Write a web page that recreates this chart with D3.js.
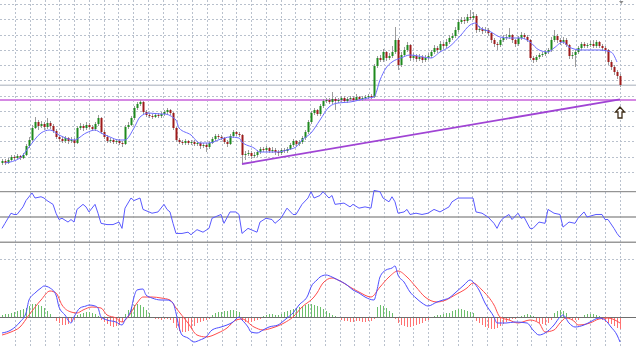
<!DOCTYPE html>
<html>
<head>
<meta charset="utf-8">
<script src="https://cdn.jsdelivr.net/npm/d3@7"></script>
<style>
  html, body { margin: 0; padding: 0; background: #fff; }
  svg { display: block; }
</style>
</head>
<body>
<svg id="chart"></svg>
<script>
// candles (price units, higher = up)
const opens = [
  17,19,17,20,23,22,24,22,25,34, 40,52,58,54,56,53,57,54,49,43,
  41,39,42,39,40,37,52,54,52,55, 53,51,56,62,48,43,39,40,38,39,
  37,36,53,55,62,72,76,78,68,65, 64,63,65,64,66,68,70,67,52,40,
  38,37,39,37,38,36,37,34,35,33, 37,41,44,43,42,38,36,44,48,46,
  45,25,26,27,24,25,28,31,30,32, 29,30,28,27,30,29,31,35,39,36,
  38,42,48,58,67,70,66,74,79,80, 78,81,79,80,82,79,81,82,80,83,
  81,82,83,84,83,114,122,120,128,122, 124,128,140,115,125,130,135,122,124,121,
  123,120,122,124,128,132,130,136,134,138, 142,144,150,158,160,159,163,162,164,150,
  151,149,150,147,140,136,135,140,142,143, 145,140,136,142,145,143,140,122,120,123,
  125,126,128,130,140,144,140,138,140,135, 124,125,128,132,136,134,135,136,134,138,
  134,132,130,118,113,108,104
];
const highs = [
  21,21,22,25,25,26,25,27,36,43, 55,63,60,59,58,62,59,56,51,45,
  44,44,43,43,42,54,57,56,58,57, 55,58,65,63,50,45,42,42,41,41,
  39,55,58,64,74,78,80,79,70,67, 66,67,67,68,70,72,71,68,53,42,
  40,41,40,40,40,39,38,37,37,39, 43,46,46,45,43,40,46,50,49,48,
  46,29,30,29,28,30,33,33,34,33, 33,32,30,32,32,33,37,41,40,40,
  44,50,60,69,72,71,76,81,82,82, 88,83,82,84,84,83,84,84,86,84,
  84,85,86,86,116,124,125,131,129,127, 134,153,142,128,133,138,136,127,126,126,
  125,125,127,130,135,134,139,138,141,145, 147,153,161,163,163,166,170,168,166,154,
  153,153,152,148,142,138,142,145,146,152, 146,141,144,148,147,145,141,124,125,127,
  128,130,132,143,150,146,142,143,142,136, 128,130,134,138,138,137,139,140,140,139,
  136,134,131,120,115,110,106
];
const lows = [
  15,15,16,19,20,21,20,21,24,32, 39,51,50,52,50,51,51,47,41,38,
  37,37,36,37,33,36,50,49,50,51, 49,49,54,46,41,37,37,36,36,35,
  33,35,51,54,60,70,74,66,63,62, 61,62,62,62,64,66,65,50,38,36,
  35,35,35,35,34,34,31,32,28,31, 36,39,41,40,36,33,35,42,44,43,
  17,20,24,21,22,23,26,28,28,27, 27,25,24,25,27,27,30,33,34,34,
  36,40,46,56,65,64,64,72,77,76, 76,70,77,78,77,77,79,78,79,79,
  79,80,81,81,82,112,118,118,119,120, 122,126,110,113,123,128,119,120,118,119,
  117,118,120,122,126,127,128,131,132,136, 140,142,148,156,156,157,160,160,147,148,
  146,147,144,137,133,130,133,138,140,141, 137,133,134,140,141,138,120,117,118,121,
  123,124,126,128,138,137,135,136,133,121, 121,113,126,130,132,132,133,132,132,132,
  129,127,115,110,105,101,93
];
const closes = [
  19,17,20,23,22,24,22,25,34,40, 52,58,54,56,53,57,54,49,43,41,
  39,42,39,40,37,52,54,52,55,53, 51,56,62,48,43,39,40,38,39,37,
  36,53,55,62,72,76,78,68,65,64, 63,65,64,66,68,70,67,52,40,38,
  37,39,37,38,36,37,34,35,33,37, 41,44,43,42,38,36,44,48,46,45,
  25,26,27,24,25,28,31,30,32,29, 30,28,27,30,29,31,35,39,36,38,
  42,48,58,67,70,66,74,79,80,78, 81,79,80,82,79,81,82,80,83,81,
  82,83,84,83,114,122,120,128,122,124, 128,140,115,125,130,135,122,124,121,123,
  120,122,124,128,132,130,136,134,138,142, 144,150,158,160,159,163,162,164,150,151,
  149,150,147,140,136,135,140,142,143,145, 140,136,142,145,143,140,122,120,123,125,
  126,128,130,140,144,140,138,140,135,124, 125,128,132,136,134,135,136,134,138,134,
  132,130,118,113,108,104,95
];

// moving average [bar, value]
const maPoints = [
  [1,17],[6,22],[9,33],[13,47],[16,50],[19,45],[24,40],[28,47],[31,50],[33,47],
  [36,43],[39,40],[41,40],[44,52],[46,63],[49,67],[53,66],[54,66],[58,60],[59,52],
  [63,45],[66,37],[69,37],[73,41],[76,43],[79,42],[80,38],[84,32],[86,28],[92,28],
  [95,30],[98,33],[100,40],[103,47],[106,60],[109,73],[112,77],[116,78],[122,82],[124,83],
  [126,100],[128,112],[130,118],[133,122],[136,125],[143,122],[146,128],[149,133],[153,145],[156,155],
  [158,157],[159,153],[163,148],[166,143],[169,142],[173,142],[176,138],[179,130],[182,128],[184,132],
  [187,138],[189,133],[193,130],[196,130],[199,130],[203,128],[205,118]
];

// horizontal levels and trend line on the price window
const grayLevel = 94.7;
const pinkLevel = 80;
const trendPoints = [[80, 16], [206, 80.7]];
const arrowAt = [206, 73];

// oscillator window [bar, value]
const rsiLevels = [70, 50, 30];
const rsiPoints = [
  [0,41],[1,45],[3,53],[4,52],[5,52],[7,58],[8,63],[10,69],[11,65],[13,66],
  [14,65],[15,63],[17,60],[18,53],[19,48],[20,49],[22,46],[23,48],[24,46],[25,56],
  [27,60],[28,58],[29,54],[31,60],[32,53],[33,45],[35,44],[37,44],[39,46],[40,41],
  [41,57],[43,65],[44,63],[46,65],[47,56],[50,53],[52,54],[54,60],[55,56],[56,54],
  [57,45],[58,37],[60,37],[62,38],[63,36],[65,40],[67,38],[69,41],[70,49],[73,52],
  [74,45],[76,54],[78,54],[79,52],[80,37],[82,41],[85,38],[86,46],[88,49],[90,48],
  [91,45],[93,49],[95,57],[97,52],[98,52],[100,60],[102,65],[103,70],[104,65],[106,67],
  [107,70],[109,65],[110,67],[111,60],[114,61],[116,58],[117,60],[119,57],[121,58],[123,57],
  [124,71],[126,70],[127,65],[129,62],[130,66],[131,62],[132,53],[134,54],[135,56],[136,52],
  [138,53],[140,52],[142,53],[144,56],[146,54],[149,58],[150,62],[152,65],[155,65],[157,65],
  [158,54],[160,53],[162,50],[164,45],[165,41],[166,46],[167,49],[169,52],[170,48],[172,53],
  [173,49],[174,50],[176,41],[177,41],[179,46],[181,45],[182,56],[184,53],[186,52],[187,42],
  [189,46],[191,45],[192,49],[194,54],[195,50],[198,52],[200,52],[201,48],[202,48],[204,41],
  [205,37],[206,34]
];

// MACD window
const macdMain = [
  [0,-16],[3,-13],[6,-5],[8,4],[9,17],[11,24],[13,29],[14,31],[16,29],[18,22],
  [19,10],[21,2],[23,-6],[24,0],[26,9],[28,11],[29,12],[31,11],[32,9],[33,0],
  [35,-3],[38,-5],[40,-8],[41,-3],[43,7],[44,20],[45,27],[47,28],[48,22],[50,19],
  [53,17],[55,17],[57,14],[58,4],[59,-10],[60,-18],[62,-21],[64,-25],[66,-23],[68,-20],
  [70,-13],[73,-10],[75,-8],[77,-5],[79,0],[80,-3],[82,-10],[83,-15],[85,-16],[87,-13],
  [89,-10],[92,-8],[93,-6],[95,-1],[97,4],[99,12],[102,22],[103,30],[105,37],[106,40],
  [108,42],[110,40],[112,37],[115,32],[117,27],[119,24],[121,20],[124,17],[125,27],[126,40],
  [128,47],[130,49],[131,51],[132,42],[134,35],[136,25],[138,19],[140,14],[142,11],[145,15],
  [147,17],[149,19],[151,24],[154,32],[156,37],[157,35],[159,27],[161,14],[164,0],[165,-6],
  [168,-6],[171,-5],[175,-6],[177,-13],[179,-18],[181,-16],[184,-8],[186,0],[187,2],[189,-6],
  [191,-10],[194,-8],[196,-5],[199,-1],[201,-3],[203,-10],[205,-18],[206,-25]
];
const macdSignal = [
  [0,-18],[3,-15],[6,-10],[9,2],[13,17],[16,26],[18,24],[20,12],[23,5],[25,4],
  [27,7],[30,10],[33,9],[35,2],[38,-1],[40,-5],[42,0],[45,14],[47,20],[50,20],
  [53,19],[56,17],[58,9],[62,-6],[65,-18],[68,-20],[72,-16],[75,-11],[78,-3],[80,-2],
  [84,-10],[87,-13],[90,-11],[94,-6],[97,0],[100,10],[104,20],[105,24],[107,34],[110,39],
  [112,37],[116,30],[119,25],[123,20],[126,30],[129,40],[132,46],[135,40],[138,30],[141,20],
  [145,15],[148,17],[151,22],[155,29],[157,34],[160,27],[164,12],[166,0],[169,-3],[172,-6],
  [176,-3],[179,-6],[181,-15],[184,-13],[186,-6],[188,-1],[191,-5],[192,-8],[196,-6],[199,-2],
  [202,-1],[206,-6]
];
const macdHist = [
  2,3,3, 4,5,6,7,8,9,11, 13,13,12,11, 9,6,3, -1, -4,-6,-8,-8,-7,-5,-3,
  2,3,4,5,5,4,3,1, -3,-5,-7,-9,-10,-9,-8,-5, 3,7,10,12,13,12,10,7,4,
  -1,-2,-2,-3,-2,-2,-3,-6, -11,-14,-15,-15,-14,-12,-9,-6, -5,-4,-3,-2,
  2,4,5,5,6,6,7,7,6,5, -3,-5,-5,-5,-4,-3,-2, 1,2,3,3,2,2,3,
  5,6,7,8,9,10,11,12,13,13,12,11, 10,8,6,4, 2,1,-1,
  -3,-4,-4,-5,-5,-4,-4,-5,-5,-4,-4,-2, 10,12,11,9,6,4,
  -2,-6,-8,-9,-10,-10,-9,-8,-7,-6,-4,-3, -1,1,2, 2,3,4,4, 6,7,8,8,7,6,5,4,
  -4,-6,-8,-10,-11,-12,-12,-11,-9,-7,-5,-3, -2,-2,-1, 1,2,3,2,1,
  -4,-6,-7,-8,-6,-3, 4,6,7,6,4, -2,-3,-3,-3,-1, 2,3,3,3,2,1,
  -3,-5,-6,-7,-9,-11,-12
];

const width = 636;
const height = 353;

const svg = d3.select("#chart")
              .attr("width", width)
              .attr("height", height);

const x = d3.scaleLinear().domain([0, closes.length - 1]).range([2, 620]);
const yPrice = d3.scaleLinear().domain([0, 180]).range([180, 0]);
const yRsi = d3.scaleLinear().domain([30, 70]).range([242.3, 191.7]);
const yMacd = d3.scaleLinear().domain([-36, 58]).range([353, 259]);

const gridColor = "#b9c1cd";

// vertical time grid, same on all windows
const grid = svg.append("g").attr("shape-rendering", "crispEdges");
grid.selectAll("line.v")
    .data(d3.range(0, 42))
    .enter().append("line")
    .attr("x1", k => Math.round(15 + 14.75 * k) + 0.5)
    .attr("x2", k => Math.round(15 + 14.75 * k) + 0.5)
    .attr("y1", 0)
    .attr("y2", 346)
    .attr("stroke", gridColor)
    .attr("stroke-dasharray", "2,2");

// horizontal grid of the price window
grid.selectAll("line.h")
    .data(d3.range(0, 12).map(k => 176 - 15.25 * k))
    .enter().append("line")
    .attr("x1", 0)
    .attr("x2", width)
    .attr("y1", d => Math.round(yPrice(d)) + 0.5)
    .attr("y2", d => Math.round(yPrice(d)) + 0.5)
    .attr("stroke", gridColor)
    .attr("stroke-dasharray", "2,2");

// dashed grid line on top of MACD window
grid.append("line")
    .attr("x1", 0).attr("x2", width)
    .attr("y1", Math.round(yMacd(58)) + 0.5)
    .attr("y2", Math.round(yMacd(58)) + 0.5)
    .attr("stroke", gridColor)
    .attr("stroke-dasharray", "2,2");

// level lines
svg.append("line")
   .attr("x1", 0).attr("x2", width)
   .attr("y1", yPrice(grayLevel)).attr("y2", yPrice(grayLevel))
   .attr("stroke", "#c4c9d1")
   .attr("stroke-width", 1.6);

svg.append("line")
   .attr("x1", 0).attr("x2", width)
   .attr("y1", yPrice(pinkLevel)).attr("y2", yPrice(pinkLevel))
   .attr("stroke", "#d589e3")
   .attr("stroke-width", 2);

// candles
const candles = svg.append("g");
const idx = d3.range(closes.length);

candles.selectAll("line.wick")
       .data(idx)
       .enter().append("line")
       .attr("x1", i => Math.round(x(i)) + 0.5)
       .attr("x2", i => Math.round(x(i)) + 0.5)
       .attr("y1", i => yPrice(highs[i]))
       .attr("y2", i => yPrice(lows[i]))
       .attr("stroke", "#9c9c9c")
       .attr("stroke-width", 1);

candles.selectAll("rect.body")
       .data(idx)
       .enter().append("rect")
       .attr("x", i => Math.round(x(i)) - 0.5)
       .attr("width", 2)
       .attr("y", i => yPrice(Math.max(opens[i], closes[i])))
       .attr("height", i => Math.max(1, Math.abs(yPrice(opens[i]) - yPrice(closes[i]))))
       .attr("fill", i => closes[i] > opens[i] ? "#1e8a1e" : closes[i] < opens[i] ? "#9e1b1b" : "#888");

// moving average
const maLine = d3.line().x(d => x(d[0])).y(d => yPrice(d[1])).curve(d3.curveMonotoneX);
svg.append("path")
   .attr("d", maLine(maPoints))
   .attr("fill", "none")
   .attr("stroke", "#6d6dff")
   .attr("stroke-width", 1);

// trend line
svg.append("line")
   .attr("x1", x(trendPoints[0][0])).attr("y1", yPrice(trendPoints[0][1]))
   .attr("x2", x(trendPoints[1][0])).attr("y2", yPrice(trendPoints[1][1]))
   .attr("stroke", "#a044d4")
   .attr("stroke-width", 1.8);

// hollow up arrow under the last bar
const ax = x(arrowAt[0]), ay = yPrice(arrowAt[1]);
svg.append("path")
   .attr("d", `M${ax},${ay} L${ax + 4.5},${ay + 5} L${ax + 2},${ay + 5} L${ax + 2},${ay + 11}` +
              ` L${ax - 2},${ay + 11} L${ax - 2},${ay + 5} L${ax - 4.5},${ay + 5} Z`)
   .attr("fill", "#fff")
   .attr("stroke", "#3d2c17")
   .attr("stroke-width", 1.3);

// chart shift marker
svg.append("path")
   .attr("d", "M619,1 L623.5,1 L621.25,4 Z")
   .attr("fill", "#8a8a8a");

// oscillator window
svg.selectAll("line.rsiLevel")
   .data(rsiLevels)
   .enter().append("line")
   .attr("x1", 0).attr("x2", width)
   .attr("y1", d => yRsi(d)).attr("y2", d => yRsi(d))
   .attr("stroke", (d, i) => i === 0 ? "#7c7c7c" : "#999")
   .attr("stroke-width", (d, i) => i === 0 ? 1 : 1.6);

const rsiLine = d3.line().x(d => x(d[0])).y(d => yRsi(d[1]));
svg.append("path")
   .attr("d", rsiLine(rsiPoints))
   .attr("fill", "none")
   .attr("stroke", "#5a5aff")
   .attr("stroke-width", 1);

// MACD histogram
svg.append("g").attr("shape-rendering", "crispEdges")
   .selectAll("line")
   .data(idx)
   .enter().append("line")
   .attr("x1", i => Math.round(x(i)) + 0.5)
   .attr("x2", i => Math.round(x(i)) + 0.5)
   .attr("y1", yMacd(0))
   .attr("y2", i => yMacd(macdHist[i]))
   .attr("stroke", i => macdHist[i] >= 0 ? "#6cbf6c" : "#ff7272")
   .attr("stroke-width", 1);

svg.append("line")
   .attr("x1", 0).attr("x2", width)
   .attr("y1", Math.round(yMacd(0)) + 0.5).attr("y2", Math.round(yMacd(0)) + 0.5)
   .attr("stroke", "#6e6e6e")
   .attr("stroke-width", 1);

const macdLine = d3.line().x(d => x(d[0])).y(d => yMacd(d[1])).curve(d3.curveMonotoneX);
svg.append("path")
   .attr("d", macdLine(macdSignal))
   .attr("fill", "none")
   .attr("stroke", "#ff4d4d")
   .attr("stroke-width", 1);

svg.append("path")
   .attr("d", macdLine(macdMain))
   .attr("fill", "none")
   .attr("stroke", "#4d4dff")
   .attr("stroke-width", 1);
</script>
</body>
</html>
